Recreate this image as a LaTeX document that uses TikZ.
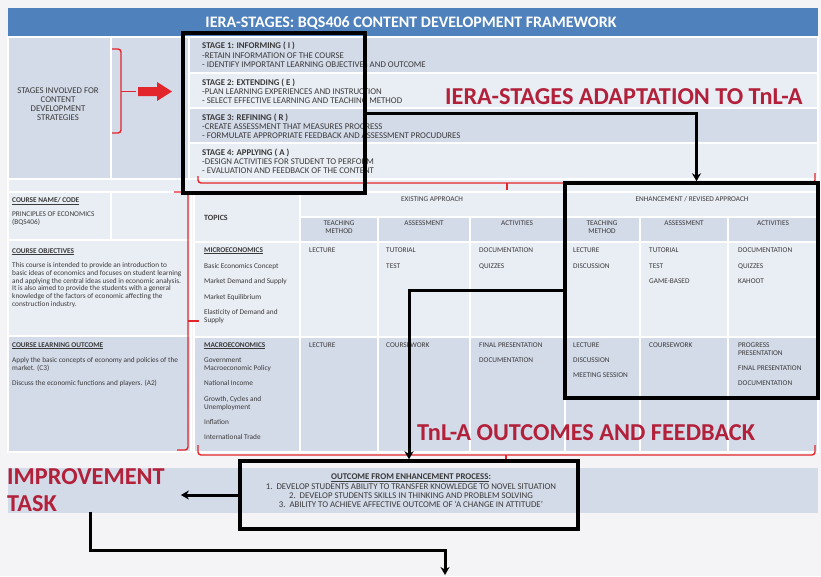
\documentclass[tikz,border=0pt]{standalone}
\usepackage{fontspec}
\setmainfont{Carlito}
\usetikzlibrary{arrows.meta}
\definecolor{hdrblue}{HTML}{4F81BD}
\definecolor{celldark}{HTML}{D3DAE8}
\definecolor{celllight}{HTML}{E9EDF4}
\definecolor{bggray}{HTML}{F4F4F6}
\definecolor{txtgray}{HTML}{3A3A3A}
\definecolor{bracered}{HTML}{E3262C}
\definecolor{labelred}{HTML}{B2203A}
\tikzset{
  cell/.style={draw=white, line width=1.2pt},
  tx/.style={anchor=base west, inner sep=0pt, text=txtgray, font=\fontsize{7.3}{8}\selectfont},
  txb/.style={tx, font=\fontsize{7.3}{8}\selectfont\bfseries},
  txc/.style={tx, anchor=base},
  stg/.style={tx, font=\fontsize{8.8}{9}\selectfont},
  stgb/.style={tx, font=\fontsize{8.8}{9}\selectfont\bfseries},
  stgc/.style={stg, anchor=base},
  outl/.style={tx, anchor=base, font=\fontsize{8.8}{9}\selectfont},
  bigred/.style={anchor=base west, inner sep=0pt, text=labelred, font=\fontsize{24.3}{27}\selectfont\bfseries},
  blk/.style={draw=black, line width=3.5pt, inner sep=0pt},
  arr/.style={line width=3pt, -{Stealth[length=8pt,width=9pt]}},
  redbr/.style={draw=bracered, line width=1.4pt, rounded corners=3pt},
}
\begin{document}
\begin{tikzpicture}[x=1pt,y=-1pt]
\useasboundingbox (0,0) rectangle (821,576);
\fill[bggray] (0,0) rectangle (821,576);
% header
\fill[hdrblue] (8,8) rectangle (818,37);
\node[anchor=base, inner sep=0pt, text=white, font=\fontsize{16}{18}\selectfont\bfseries] (title) at (411,27.5) {IERA-STAGES: BQS406 CONTENT DEVELOPMENT FRAMEWORK};
% stage rows
\path[cell,fill=celldark] (8,37) rectangle (111,179);
\path[cell,fill=celldark] (111,37) rectangle (189,179);
\path[cell,fill=celldark] (189,37) rectangle (818,73);
\path[cell,fill=celllight] (189,73) rectangle (818,108);
\path[cell,fill=celldark] (189,108) rectangle (818,143);
\path[cell,fill=celllight] (189,143) rectangle (818,179);
\path[cell,fill=celllight] (8,179) rectangle (818,192);
% left course column
\path[cell,fill=celllight] (8,192) rectangle (111,240);
\path[cell,fill=celllight] (111,192) rectangle (191,240);
\path[cell,fill=celllight] (8,240) rectangle (191,336);
\path[cell,fill=celldark] (8,336) rectangle (191,452);
% table header
\path[cell,fill=celllight] (194,192) rectangle (300,242);
\path[cell,fill=celllight] (300,192) rectangle (565,217);
\path[cell,fill=celllight] (565,192) rectangle (818,217);
\foreach \a/\b in {300/378,378/470,470/565,565/640,640/728,728/818}{
  \path[cell,fill=celldark] (\a,217) rectangle (\b,242);
}
\foreach \a/\b in {194/300,300/378,378/470,470/565,565/640,640/728,728/818}{
  \path[cell,fill=celllight] (\a,242) rectangle (\b,337);
  \path[cell,fill=celldark] (\a,337) rectangle (\b,452);
}
% outcome band
\fill[celldark] (8,468) rectangle (818,513);

% stage texts
\node[stgc] (s0a) at (58,93) {STAGES INVOLVED FOR};
\node[stgc] (s0b) at (58,102) {CONTENT};
\node[stgc] (s0c) at (58,111) {DEVELOPMENT};
\node[stgc] (s0d) at (58,120) {STRATEGIES};
\node[stgb] (s1a) at (202,48) {STAGE 1: INFORMING ( I )};
\node[stg] (s1b) at (202,58.5) {-RETAIN INFORMATION OF THE COURSE};
\node[stg] (s1c) at (202,67.5) {- IDENTIFY IMPORTANT LEARNING OBJECTIVES AND OUTCOME};
\node[stgb] (s2a) at (202,85) {STAGE 2: EXTENDING ( E )};
\node[stg] (s2b) at (202,94) {-PLAN LEARNING EXPERIENCES AND INSTRUCTION};
\node[stg] (s2c) at (202,103) {- SELECT EFFECTIVE LEARNING AND TEACHING METHOD};
\node[stgb] (s3a) at (202,120) {STAGE 3: REFINING ( R )};
\node[stg] (s3b) at (202,129.5) {-CREATE ASSESSMENT THAT MEASURES PROGRESS};
\node[stg] (s3c) at (202,138) {- FORMULATE APPROPRIATE FEEDBACK AND ASSESSMENT PROCUDURES};
\node[stgb] (s4a) at (202,155) {STAGE 4: APPLYING ( A )};
\node[stg] (s4b) at (202,164) {-DESIGN ACTIVITIES FOR STUDENT TO PERFORM};
\node[stg] (s4c) at (202,173) {- EVALUATION AND FEEDBACK OF THE CONTENT};

% left column texts
\node[txb] (c1) at (12,202) {\underline{COURSE NAME/ CODE}};
\node[tx] (c2) at (12,216) {PRINCIPLES OF ECONOMICS};
\node[tx] (c3) at (12,224) {(BQS406)};
\node[txb] (c4) at (12,253) {\underline{COURSE OBJECTIVES}};
\node[tx] (c5) at (12,267.5) {This course is intended to provide an introduction to};
\node[tx] (c6) at (12,275.2) {basic ideas of economics and focuses on student learning};
\node[tx] (c7) at (12,283) {and applying the central ideas used in economic analysis.};
\node[tx] (c8) at (12,290.7) {It is also aimed to provide the students with a general};
\node[tx] (c9) at (12,298.5) {knowledge of the factors of economic affecting the};
\node[tx] (c10) at (12,306.2) {construction industry.};
\node[txb] (c11) at (12,347) {\underline{COURSE LEARNING OUTCOME}};
\node[tx] (c12) at (12,362) {Apply the basic concepts of economy and policies of the};
\node[tx] (c13) at (12,370) {market. (C3)};
\node[tx] (c14) at (12,385) {Discuss the economic functions and players. (A2)};

% table header texts
\node[tx,font=\fontsize{8}{9}\selectfont\bfseries] (h0) at (204,220) {TOPICS};
\node[txc] (h1) at (432,201) {EXISTING APPROACH};
\node[txc] (h2) at (692,201) {ENHANCEMENT / REVISED APPROACH};
\node[txc] (h3a) at (339,225) {TEACHING};
\node[txc] (h3b) at (339,233) {METHOD};
\node[txc] (h4) at (424,225) {ASSESSMENT};
\node[txc] (h5) at (517,225) {ACTIVITIES};
\node[txc] (h6a) at (602,225) {TEACHING};
\node[txc] (h6b) at (602,233) {METHOD};
\node[txc] (h7) at (684,225) {ASSESSMENT};
\node[txc] (h8) at (773,225) {ACTIVITIES};

% micro row
\node[txb] (m0) at (204,252) {\underline{MICROECONOMICS}};
\node[tx] (m1) at (204,268) {Basic Economics Concept};
\node[tx] (m2) at (204,283) {Market Demand and Supply};
\node[tx] (m3) at (204,299) {Market Equilibrium};
\node[tx] (m4) at (204,314) {Elasticity of Demand and};
\node[tx] (m5) at (204,322) {Supply};
\node[tx] (m6) at (309,252) {LECTURE};
\node[tx] (m7) at (386,252) {TUTORIAL};
\node[tx] (m8) at (386,268) {TEST};
\node[tx] (m9) at (479,252) {DOCUMENTATION};
\node[tx] (m10) at (479,268) {QUIZZES};
\node[tx] (m11) at (573,252) {LECTURE};
\node[tx] (m12) at (573,268) {DISCUSSION};
\node[tx] (m13) at (649,252) {TUTORIAL};
\node[tx] (m14) at (649,268) {TEST};
\node[tx] (m15) at (649,283) {GAME-BASED};
\node[tx] (m16) at (738,252) {DOCUMENTATION};
\node[tx] (m17) at (738,268) {QUIZZES};
\node[tx] (m18) at (738,283) {KAHOOT};

% macro row
\node[txb] (n0) at (204,347) {\underline{MACROECONOMICS}};
\node[tx] (n1) at (204,362) {Government};
\node[tx] (n2) at (204,370) {Macroeconomic Policy};
\node[tx] (n3) at (204,385) {National Income};
\node[tx] (n4) at (204,401) {Growth, Cycles and};
\node[tx] (n5) at (204,409) {Unemployment};
\node[tx] (n6) at (204,424) {Inflation};
\node[tx] (n7) at (204,439) {International Trade};
\node[tx] (n8) at (309,347) {LECTURE};
\node[tx] (n9) at (386,347) {COURSEWORK};
\node[tx] (n10) at (479,347) {FINAL PRESENTATION};
\node[tx] (n11) at (479,362) {DOCUMENTATION};
\node[tx] (n12) at (573,347) {LECTURE};
\node[tx] (n13) at (573,362) {DISCUSSION};
\node[tx] (n14) at (573,377) {MEETING SESSION};
\node[tx] (n15) at (649,347) {COURSEWORK};
\node[tx] (n16) at (738,347) {PROGRESS};
\node[tx] (n17) at (738,355) {PRESENTATION};
\node[tx] (n18) at (738,370) {FINAL PRESENTATION};
\node[tx] (n19) at (738,385) {DOCUMENTATION};

% outcome text
\node[outl,font=\fontsize{8.8}{9}\selectfont\bfseries] (o0) at (411,479.5) {\underline{OUTCOME FROM ENHANCEMENT PROCESS}:};
\node[outl] (o1) at (411,489.5) {1.\ \ DEVELOP STUDENTS ABILITY TO TRANSFER KNOWLEDGE TO NOVEL SITUATION};
\node[outl] (o2) at (411,498.5) {2.\ \ DEVELOP STUDENTS SKILLS IN THINKING AND PROBLEM SOLVING};
\node[outl] (o3) at (411,507.5) {3.\ \ ABILITY TO ACHIEVE AFFECTIVE OUTCOME OF `A CHANGE IN ATTITUDE'};

% red labels
\node[bigred] (lab1) at (445,104) {IERA-STAGES ADAPTATION TO TnL-A};
\node[bigred] (lab2) at (417,440) {TnL-A OUTCOMES AND FEEDBACK};
\node[bigred, align=left, anchor=north west] (improve) at (7,468) {IMPROVEMENT\\TASK};

% red braces
\draw[redbr] (112,49) -- (121,49) -- (121,133) -- (112,133);
\draw[draw=bracered, line width=1.4pt] (121,91.5) -- (136,91.5);
\fill[bracered] (138,87) -- (157,87) -- (157,82) -- (172,91.5) -- (157,101) -- (157,96) -- (138,96) -- cycle;
\draw[redbr] (198,176) -- (198,183) -- (815,183) -- (815,173);
\draw[draw=bracered, line width=1.4pt] (507,183) -- (507,190);
\draw[redbr] (174,192) -- (188,192) -- (188,450) -- (177,450);
\draw[draw=bracered, line width=1.4pt] (188,321) -- (199,321);
\draw[redbr] (198,445) -- (198,455) -- (815,455) -- (815,445);
\draw[draw=bracered, line width=1.4pt] (506,455) -- (506,460);

% black boxes
\node[blk, minimum width=182pt, minimum height=160pt] (stagebox) at (274,113) {};
\node[blk, minimum width=253pt, minimum height=215pt] (enhbox) at (691.5,290.5) {};
\node[blk, minimum width=338pt, minimum height=68pt] (outbox) at (409,495) {};

% connectors
\coordinate (bend) at (445,550);
\coordinate (endpt) at (445,575);
\draw[arr] (stagebox.east) -| ([xshift=5pt]enhbox.north);
\draw[arr] (enhbox.west) -| (outbox.north);
\draw[arr] (outbox.west) -- ([xshift=16pt]improve.east |- outbox.west);
\draw[arr] ([xshift=5pt]improve.south) |- (bend) -- (endpt);
\end{tikzpicture}
\end{document}
